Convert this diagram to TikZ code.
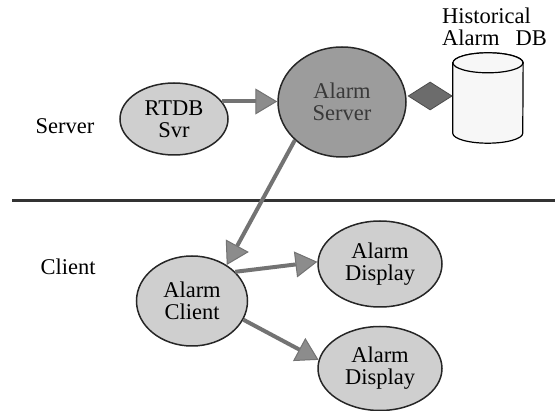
\documentclass[tikz,border=0pt]{standalone}
\usepackage{fontspec}
\setmainfont{Liberation Serif}
\usetikzlibrary{positioning,shapes.geometric,arrows.meta}

\tikzset{
  proc/.style={ellipse, draw=gray!30!black, line width=1.5pt, fill=gray!38, align=center, inner sep=0pt},
  hub/.style={proc, fill=gray!78, text=gray!45!black},
  store/.style={draw=black, line width=1.2pt, fill=gray!6},
  link/.style={diamond, draw=black!70, line width=0.8pt, fill=gray!85!black,
    minimum width=44pt, minimum height=28pt, inner sep=0pt},
  flow/.style={line width=4pt, draw=gray!90!black,
    -{Triangle[length=22pt, width=26pt, fill=gray!90, line width'=1pt]}},
  tag/.style={inner sep=0pt},
}

\begin{document}
\begin{tikzpicture}[x=1pt, y=-1pt, font=\fontsize{22.5}{22}\selectfont]
  \useasboundingbox (0,0) rectangle (555,411);

  % server side
  \node[proc, minimum width=108pt, minimum height=72pt] (rtdb) at (174,119) {RTDB\\Svr};
  \node[hub, minimum width=128pt, minimum height=110pt] (server) at (342,102) {Alarm\\Server};
  \node[minimum width=70pt, minimum height=70pt, inner sep=0pt, right=46pt of server, yshift=4pt] (db) {};
  \draw[store] (db.north west) -- (db.south west)
    arc[start angle=180, end angle=360, x radius=35pt, y radius=10pt]
    -- (db.north east)
    arc[start angle=0, end angle=180, x radius=35pt, y radius=10pt] -- cycle;
  \draw[store] (db.north) ellipse[x radius=35pt, y radius=10pt];
  \node[link, right=1pt of server.east, yshift=6pt] (sync) {};
  \node[tag, align=left, anchor=north west] (dblbl) at (442,8) {Historical\\Alarm\hspace{16pt}DB};
  \node[tag] (serverlbl) at (65,126) {Server};

  % divider
  \coordinate (divl) at (12,201);
  \coordinate (divr) at (555,201);
  \draw[line width=3pt, gray!40!black] (divl) -- (divr);

  % client side
  \node[proc, minimum width=111pt, minimum height=90pt] (client) at (192,301) {Alarm\\Client};
  \node[proc, minimum width=124pt, minimum height=86pt] (disp1) at (380,264) {Alarm\\Display};
  \node[proc, minimum width=124pt, minimum height=84pt, below=18pt of disp1] (disp2) {Alarm\\Display};
  \node[tag] (clientlbl) at (68,267) {Client};

  \draw[flow] (rtdb.20) -- (rtdb.20 -| server.west);
  \draw[flow] (server.219) -- (client.46);
  \draw[flow] (client.34) -- (disp1.178);
  \draw[flow] (client.340) -- (disp2.172);
\end{tikzpicture}
\end{document}
